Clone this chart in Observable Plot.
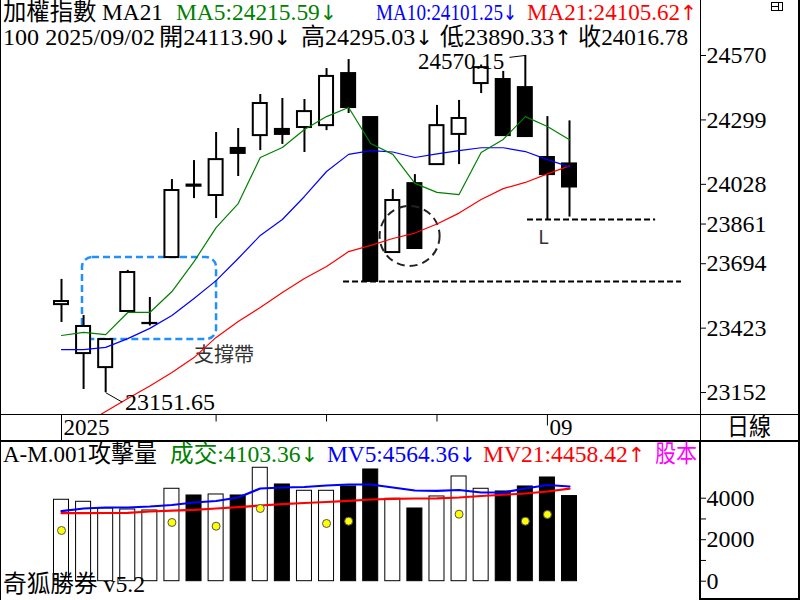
<!DOCTYPE html>
<html><head><meta charset="utf-8">
<script src="https://cdn.jsdelivr.net/npm/d3@7"></script>
<script src="https://cdn.jsdelivr.net/npm/@observablehq/plot@0.6"></script>
<style>
body{margin:0;background:#fff;}
#wrap{position:relative;width:800px;height:600px;overflow:hidden;background:#fff;font-family:"Liberation Serif","Noto Sans CJK TC",serif;}
.t{position:absolute;white-space:nowrap;font-size:24px;line-height:24px;}
.ln{position:absolute;background:#000;}
</style></head><body><div id="wrap"></div>
<script>
// ---------- data ----------
const open  = [23522,23316,23257,23493,23442,23720,24025,23981,24179,24233,24259,24267,24275,24494,24309,23741,24031,24111,24238,24452,24469,24435,24141,24113.90];
const high  = [23628,23476,23378,23666,23552,24048,24128,24246,24263,24406,24389,24385,24515,24553,24312,24006,24069,24360,24381,24530,24503,24570.15,24313,24295.03];
const low   = [23447,23165,23151.65,23490,23432,23716,23968,23884,24061,24170,24196,24162,24254,24326,23619,23740,23757,24110,24111,24410,24232,24228,23880,23890.33];
const close = [23535,23430,23375,23657,23443,24002,24020,24132,24158,24368,24238,24334,24482,24351,23619.5,23960,23758,24275,24305,24519,24233,24229,24069,24016.78];
const ma5   = [23392,23405,23396,23489,23489,23577,23703,23846,23947,24141,24183,24259,24313,24351,24200,24154,24032,23994,23985,24162,24217,24313,24271,24215.59];
const ma10  = [23333,23333,23342,23379,23422,23476,23548,23623,23716,23813,23880,23977,24082,24154,24170,24164,24141,24156,24170,24182,24182,24166,24132,24101.25];
const ma21  = [22963,23018,23072,23127,23180,23236,23299,23384,23451,23510,23573,23632,23682,23745,23771,23800,23823,23861,23907,23964,24010,24036,24072,24105.62];
const vol   = [3924,3827,3504,3456,3408,4454,4131,4179,4131,5466,4661,4357,4357,4565,5384,3972,3504,4083,5047,4454,4324,4565,4998,4103.36];
const mv5   = [3374,3504,3552,3552,3600,3673,3793,3866,4034,4468,4516,4540,4613,4661,4661,4516,4372,4357,4396,4275,4275,4468,4637,4564.36];
const mv21  = [3278,3282,3287,3297,3360,3398,3437,3504,3567,3649,3716,3769,3817,3870,3938,3972,3986,3996,4034,4107,4165,4227,4324,4458.42];
const dotIdx = [0,5,7,9,12,13,18,21,22];
const dotVal = [2444,2829,2651,3504,2781,2892,3229,2892,3215];
const yTicks = [24570,24299,24028,23861,23694,23423,23152];
const volTicks = [0,1000,2000,3000,4000];
const dateTickIdx = [0,7,12,17,22];
const dateLabels = ["2025","","","","09"];
const support = [{i1:0.95, i2:7.02, v1:23375, v2:23720, label:"支撐帶", li:6, lv:23308}];
const circle = [{i:15.76, v:23811}];
const lowLine = [{v:23619, i1:12.77, i2:28.07}];
const lLine = [{v:23880, i1:21.1, i2:26.9, label:"L", li:21.82, lv:23806}];

// ---------- helpers ----------
const wrap = document.getElementById("wrap");
const idx = d3.range(open.length);
const candles = idx.map(i => ({i, o:open[i], h:high[i], l:low[i], c:close[i], up:close[i] >= open[i], vol:vol[i]}));
const xDom = [-61/22.087, (700-61)/22.087];
const serif = '"Liberation Serif", "Noto Sans CJK TC", serif';
function place(el, top){ const d=document.createElement("div"); d.style.cssText=`position:absolute;left:0;top:${top}px;`; d.appendChild(el); wrap.appendChild(d); }
function txt(segs, x, top, width, size=24){
  const e=document.createElement("div"); e.className="t";
  e.style.left=x+"px"; e.style.top=top+"px"; e.style.fontSize=size+"px"; e.style.lineHeight=size+"px";
  for (const s of segs) {
    const sp=document.createElement("span"); sp.textContent=s.t; sp.style.color=s.c || "#000";
    if (s.arrow) { sp.style.fontFamily='"DejaVu Sans"'; sp.style.fontSize="21px"; }
    e.appendChild(sp);
  }
  wrap.appendChild(e);
  if (width) { const w=e.getBoundingClientRect().width; e.style.transformOrigin="0 0"; e.style.transform=`scaleX(${width/w})`; }
}
function line(x,y,w,h){ const e=document.createElement("div"); e.className="ln"; e.style.cssText+=`left:${x}px;top:${y}px;width:${w}px;height:${h}px;`; wrap.appendChild(e); }
const hw = 0.317, vw = 0.34;
const iHi = d3.maxIndex(high), iLo = d3.minIndex(low);

// ---------- main price panel ----------
const main = Plot.plot({
  width:800, height:415, marginLeft:0, marginRight:100, marginTop:0, marginBottom:0,
  x:{domain:xDom, axis:null},
  y:{domain:[23055.5, 24801.4]},
  style:{fontFamily:serif, color:"#000", background:"transparent"},
  marks:[
    Plot.axisY(yTicks, {anchor:"right", tickSize:5, tickPadding:1, tickFormat:d=>String(d), fontSize:24, stroke:"#000", fill:"#000"}),
    Plot.rect(support, {x1:"i1", x2:"i2", y1:"v1", y2:"v2", rx:10, fill:"none", stroke:"#1E90FF", strokeWidth:2.5, strokeDasharray:"7,4"}),
    Plot.text(support, {x:"li", y:"lv", text:"label", textAnchor:"start", fontFamily:"Noto Sans CJK TC", fontSize:20, fill:"#333"}),
    Plot.ruleY(lowLine, {y:"v", x1:"i1", x2:"i2", stroke:"#000", strokeWidth:2, strokeDasharray:"6,3"}),
    Plot.ruleY(lLine, {y:"v", x1:"i1", x2:"i2", stroke:"#000", strokeWidth:2, strokeDasharray:"6,3"}),
    Plot.text(lLine, {x:"li", y:"lv", text:"label", fontFamily:"Noto Sans", fontSize:20, fill:"#333"}),
    Plot.ruleX(candles, {x:"i", y1:"l", y2:"h", stroke:"#000", strokeWidth:2}),
    Plot.rect(candles.filter(d=>d.up), {x1:d=>d.i-hw, x2:d=>d.i+hw, y1:"o", y2:"c", fill:"#fff", stroke:"#000", strokeWidth:2}),
    Plot.rect(candles.filter(d=>!d.up), {x1:d=>d.i-hw, x2:d=>d.i+hw, y1:"o", y2:"c", fill:"#000", stroke:"#000", strokeWidth:2}),
    Plot.dot(circle, {x:"i", y:"v", r:30, fill:"none", stroke:"#222", strokeWidth:2, strokeDasharray:"8,5"}),
    Plot.line(idx, {x:i=>i, y:i=>ma21[i], stroke:"#FF0000", strokeWidth:1.2}),
    Plot.line(idx, {x:i=>i, y:i=>ma10[i], stroke:"#0000FF", strokeWidth:1.2}),
    Plot.line(idx, {x:i=>i, y:i=>ma5[i], stroke:"#008000", strokeWidth:1.2}),
    // high / low annotations
    Plot.link([candles[iHi]], {x1:d=>d.i-0.72, y1:d=>d.h-8, x2:"i", y2:"h", stroke:"#000", strokeWidth:1}),
    Plot.text([candles[iHi]], {x:d=>d.i-0.95, y:d=>d.h-28, text:d=>d.h.toFixed(2), textAnchor:"end", fontFamily:serif, fontSize:23, fill:"#000"}),
    Plot.link([candles[iLo]], {x1:"i", y1:"l", x2:d=>d.i+0.75, y2:d=>d.l-40, stroke:"#000", strokeWidth:1}),
    Plot.text([candles[iLo]], {x:d=>d.i+0.88, y:d=>d.l-40, text:d=>d.l.toFixed(2), textAnchor:"start", fontFamily:serif, fontSize:24, fill:"#000"})
  ]
});
place(main, 0);

// ---------- date row ----------
const dates = dateTickIdx.map((i,k)=>({i, label:dateLabels[k], len: dateLabels[k]==="2025" ? 1 : (dateLabels[k] ? 0.42 : 0.26)}));
const dateRow = Plot.plot({
  width:800, height:25, marginLeft:0, marginRight:100, marginTop:0, marginBottom:0,
  x:{domain:xDom, axis:null}, y:{domain:[0,1], axis:null},
  style:{fontFamily:serif, background:"transparent", overflow:"visible"},
  marks:[
    Plot.ruleX(dates, {x:"i", y1:1, y2:d=>1-d.len, stroke:"#000", strokeWidth:1}),
    Plot.text(dates, {x:"i", y:0.5, text:"label", dx:2, textAnchor:"start", fontFamily:serif, fontSize:23, fill:"#000"})
  ]
});
place(dateRow, 415);

// ---------- volume panel ----------
const vdots = dotIdx.map((i,k)=>({i, v:dotVal[k]}));
const volP = Plot.plot({
  width:800, height:160, marginLeft:0, marginRight:100, marginTop:0, marginBottom:0,
  x:{domain:xDom, axis:null},
  y:{domain:[-930.2, 6780.6]},
  style:{fontFamily:serif, color:"#000", background:"transparent"},
  marks:[
    Plot.axisY(volTicks, {anchor:"right", tickSize:5, tickPadding:1, tickFormat:d=> d%2000===0 ? String(d) : "", fontSize:24, stroke:"#000", fill:"#000"}),
    Plot.rect(candles.filter(d=>d.up), {x1:d=>d.i-vw, x2:d=>d.i+vw, y1:0, y2:"vol", fill:"#fff", stroke:"#000", strokeWidth:1}),
    Plot.rect(candles.filter(d=>!d.up), {x1:d=>d.i-vw, x2:d=>d.i+vw, y1:0, y2:"vol", fill:"#000", stroke:"#000", strokeWidth:1}),
    Plot.line(idx, {x:i=>i, y:i=>mv21[i], stroke:"#FF0000", strokeWidth:2.2}),
    Plot.line(idx, {x:i=>i, y:i=>mv5[i], stroke:"#0000FF", strokeWidth:2.2}),
    Plot.dot(vdots, {x:"i", y:"v", r:4, fill:"#FFFF00", stroke:"#555", strokeWidth:1})
  ]
});
place(volP, 440);

// ---------- frame lines ----------
line(0,0,1,600);
line(798,0,2,600);
line(700,0,1,440);
line(699,440,2,160);
line(0,414,800,1);
line(0,440,800,2);
line(700,598,100,2);
// window icon
line(771,2,12,1); line(771,10,12,1); line(771,2,1,9); line(782,2,1,9); line(778,2,1,9); line(771,6,7,1);

// ---------- texts ----------
const n = open.length - 1;
const G="#008000", B="#0000FF", R="#FF0000", M="#FF00FF";
const up="↑", dn="↓";
txt([{t:"加權指數 MA21"}], 3, 0, 160);
txt([{t:`MA5:${ma5[n].toFixed(2)}`, c:G}, {t:dn, c:G, arrow:true}], 176, 0, 161);
txt([{t:`MA10:${ma10[n].toFixed(2)}`, c:B}, {t:dn, c:B, arrow:true}], 376, 0, 141);
txt([{t:`MA21:${ma21[n].toFixed(2)}`, c:R}, {t:up, c:R, arrow:true}], 527, 0, 170);
txt([{t:"100 2025/09/02"}], 3, 25, 152);
txt([{t:`開${open[n].toFixed(2)}`}, {t:dn, arrow:true}], 159, 25, 132);
txt([{t:`高${high[n].toFixed(2)}`}, {t:dn, arrow:true}], 301, 25, 132);
txt([{t:`低${low[n].toFixed(2)}`}, {t:up, arrow:true}], 440, 25, 132);
txt([{t:`收${close[n].toFixed(2)}`}], 578, 25, 110);
txt([{t:"日線"}], 727, 415, 44);
txt([{t:"A-M.001攻擊量"}], 3, 442, 154);
txt([{t:`成交:${vol[n].toFixed(2)}`, c:G}, {t:dn, c:G, arrow:true}], 170, 442, 148);
txt([{t:`MV5:${mv5[n].toFixed(2)}`, c:B}, {t:dn, c:B, arrow:true}], 327, 442, 149);
txt([{t:`MV21:${mv21[n].toFixed(2)}`, c:R}, {t:up, c:R, arrow:true}], 483, 442, 162);
txt([{t:"股本", c:M}], 655, 442, 42);
txt([{t:"奇狐勝券 v5.2"}], 3, 572, 142);
</script></body></html>
